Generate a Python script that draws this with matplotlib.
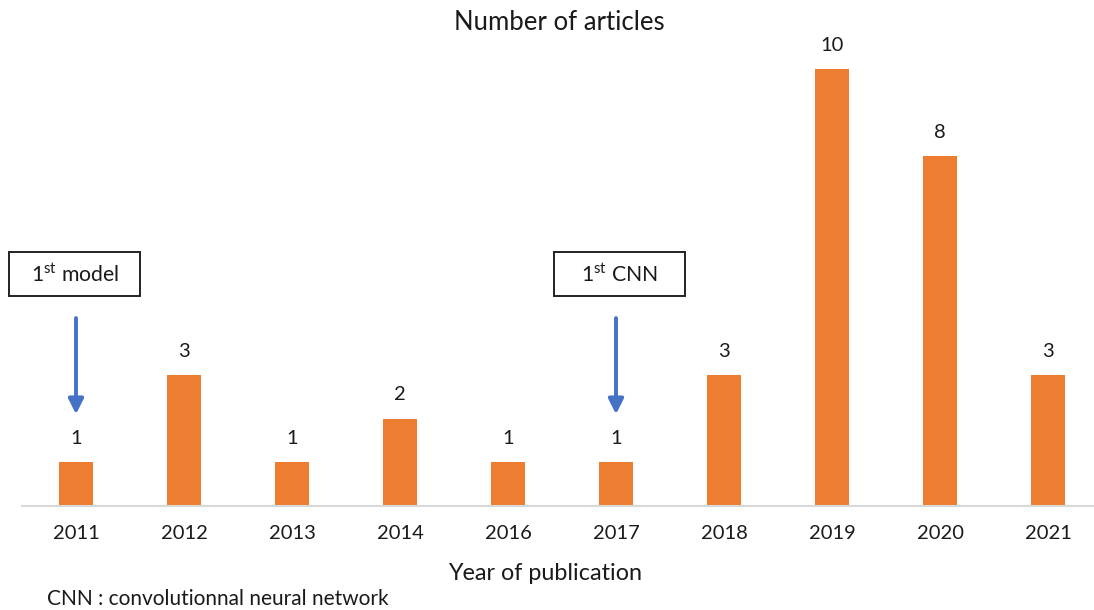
import matplotlib
matplotlib.use("Agg")
import matplotlib.pyplot as plt
from matplotlib.patches import Rectangle

years = ["2011", "2012", "2013", "2014", "2016", "2017", "2018", "2019", "2020", "2021"]
counts = [1, 3, 1, 2, 1, 1, 3, 10, 8, 3]
title = "Number of articles"
xlabel = "Year of publication"
footnote = "CNN : convolutionnal neural network"
annotations = [("2011", r"1$^{\mathregular{st}}$ model"), ("2017", r"1$^{\mathregular{st}}$ CNN")]

plt.rcParams['font.family'] = ['Lato', 'DejaVu Sans']
plt.rcParams['mathtext.fontset'] = 'custom'
plt.rcParams['mathtext.rm'] = 'Lato'

TXT = "#1a1a1a"
W, H = 1094, 610
fig = plt.figure(figsize=(W / 100, H / 100), dpi=100)
fig.patch.set_facecolor("white")

# axes geometry (pixels)
left_px, base_px = 22, 506
unit_px = 43.7
cat_px = 108
ymax = 10.6
ax = fig.add_axes([left_px / W, (H - base_px) / H, (W - left_px) / W, ymax * unit_px / H])
ax.set_xlim(-0.5, -0.5 + (W - left_px) / cat_px)
ax.set_ylim(0, ymax)

x = list(range(len(years)))
bars = ax.bar(x, counts, width=0.315, color="#ED7D31", zorder=2)
for xi, v in zip(x, counts):
    ax.annotate(str(v), (xi, v), xytext=(0, 17), textcoords="offset points",
                ha="center", va="center", fontsize=14.5, color=TXT)

for s in ["top", "right", "left"]:
    ax.spines[s].set_visible(False)
ax.spines["bottom"].set_color("#D9D9D9")
ax.spines["bottom"].set_linewidth(1.5)
ax.set_yticks([])
ax.set_xticks(x)
ax.set_xticklabels(years, fontsize=14.5, color=TXT)
ax.tick_params(axis="x", length=0, pad=14)

fig.text(559 / W, 1 - 22 / H, title, ha="center", va="center", fontsize=18.5, color=TXT)
fig.text(545 / W, 1 - 573 / H, xlabel, ha="center", va="center", fontsize=16.8, color=TXT)
fig.text(47 / W, 1 - 599 / H, footnote, ha="left", va="center", fontsize=15, color=TXT)

# annotation boxes and arrows
box_w, box_h = 131 / cat_px, 44 / unit_px
for (yr, label), dx in zip(annotations, [0.0, 0.04]):
    xi = years.index(yr)
    cx, cy = xi + dx - 0.01, 5.3
    ax.add_patch(Rectangle((cx - box_w / 2, cy - box_h / 2), box_w, box_h,
                           fill=False, edgecolor="#222222", linewidth=1.4, clip_on=False, zorder=3))
    ax.text(cx, cy, label, ha="center", va="center", fontsize=15.3, color=TXT)
    ax.annotate("", xy=(xi, 2.1), xytext=(xi, 4.3),
                arrowprops=dict(arrowstyle="-|>,head_width=0.45,head_length=0.9",
                                color="#4472C4", lw=2.8, shrinkA=0, shrinkB=0))

fig.savefig("out.png", dpi=100, facecolor="white")
